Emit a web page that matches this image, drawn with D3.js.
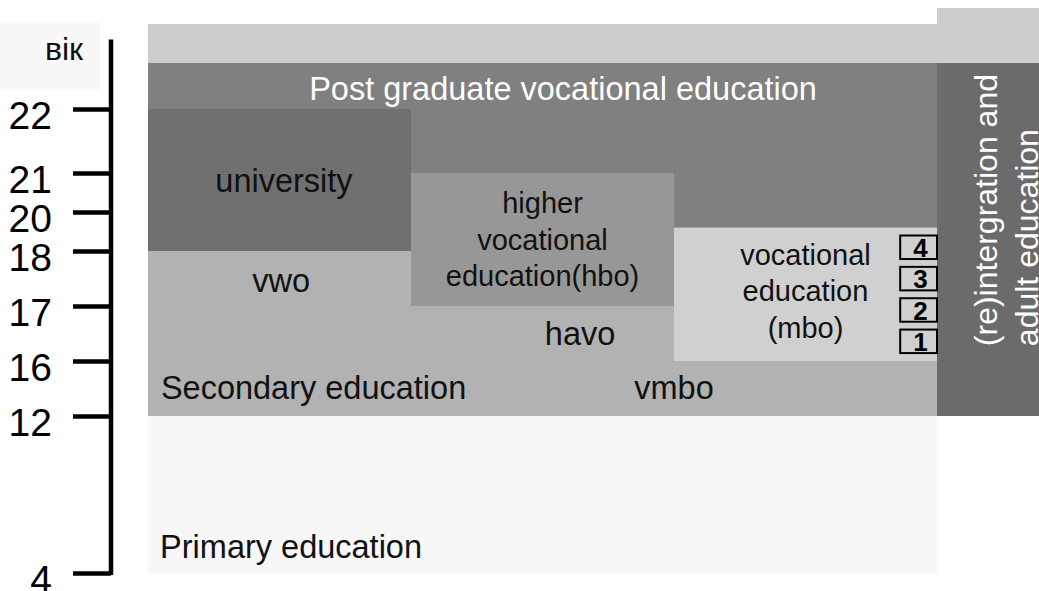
<!DOCTYPE html>
<html>
<head>
<meta charset="utf-8">
<script src="https://cdn.jsdelivr.net/npm/d3@7"></script>
<style>
  body { margin: 0; background: #fff; }
  svg { display: block; font-family: "Liberation Sans", Arial, sans-serif; }
</style>
</head>
<body>
<div id="chart"></div>
<script>
// Ages shown on the axis
var ages = [4, 12, 16, 17, 18, 20, 21, 22];
var ageLabels = ["4", "12", "16", "17", "18", "20", "21", "22"];
var axisTitle = "вік";

// Education blocks: columns (0..3 main grid, 3+ side column) and age span
var blockNames = ["top", "postgrad", "secondary", "university", "hbo", "mbo", "primary", "adultTop", "adult"];
var blockColFrom = [0, 0, 0, 0, 1, 2, 0, 3, 3];
var blockColTo = [3, 3, 3, 1, 2, 3, 3, 3.4, 3.4];
var blockAgeFrom = [23, 12, 12, 18, 17, 16, 4, 23, 12];
var blockAgeTo = [24, 23, 18, 22, 21, 19.2, 12, 24.4, 23];

// mbo levels
var mboLevels = ["4", "3", "2", "1"];

// Fills per block
var blockFill = {
	top: "#cdcdcd", postgrad: "#808080", secondary: "#b2b2b2", university: "#707070",
	hbo: "#979797", mbo: "#d0d0d0", primary: "#f7f7f7", adultTop: "#cdcdcd", adult: "#6b6b6b"
};

var width = 1039, height = 591;

var svg = d3.select("#chart").append("svg")
	.attr("width", width)
	.attr("height", height);

// Column scale and the (uneven) age scale of the diagram
var x = d3.scaleLinear()
	.domain([0, 3])
	.range([148, 937]);
var y = d3.scaleLinear()
	.domain([4, 12, 16, 17, 18, 20, 21, 22, 23, 24, 24.4])
	.range([573, 416, 361, 306, 251, 212, 173, 109, 63, 24, 8]);

// Light box behind the axis title
svg.append("rect")
	.attr("x", 0).attr("y", 22)
	.attr("width", 100).attr("height", 68)
	.attr("fill", "#f8f8f8");

// Blocks
svg.append("g").selectAll("rect")
	.data(blockNames)
	.enter().append("rect")
	.attr("x", function(d, i) { return x(blockColFrom[i]); })
	.attr("y", function(d, i) { return y(blockAgeTo[i]); })
	.attr("width", function(d, i) { return x(blockColTo[i]) - x(blockColFrom[i]); })
	.attr("height", function(d, i) { return y(blockAgeFrom[i]) - y(blockAgeTo[i]); })
	.attr("fill", function(d) { return blockFill[d]; });

// Axis
var axis = svg.append("g")
	.attr("transform", "translate(111,0)")
	.call(d3.axisLeft(y).tickValues(ages).tickSize(38).tickSizeOuter(0).tickPadding(21)
		.tickFormat(function(d, i) { return ageLabels[i]; }));
axis.select(".domain").remove();
axis.append("line")
	.attr("x1", 0).attr("x2", 0)
	.attr("y1", y(4) + 2).attr("y2", y(23.6))
	.attr("stroke", "#000").attr("stroke-width", 4.5);
axis.selectAll(".tick line").attr("stroke", "#000").attr("stroke-width", 4.5);
axis.selectAll(".tick text")
	.attr("font-family", "Liberation Sans, Arial, sans-serif")
	.attr("font-size", 39)
	.attr("fill", "#000")
	.attr("dy", "0.51em");

svg.append("text")
	.attr("x", 83).attr("y", 60)
	.attr("text-anchor", "end")
	.attr("font-size", 32)
	.attr("fill", "#111")
	.text(axisTitle);

// Labels: [lines, col, age, anchor, size, colour]
var labels = [
	[["Post graduate vocational education"], 1.578, 22.2, "middle", 32.5, "#fff"],
	[["university"], 0.517, 20.51, "middle", 32.5, "#111"],
	[["higher", "vocational", "education(hbo)"], 1.5, 19.95, "middle", 29, "#111"],
	[["vwo"], 0.506, 17.25, "middle", 32.5, "#111"],
	[["havo"], 1.643, 16.29, "middle", 32.5, "#111"],
	[["vocational", "education", "(mbo)"], 2.5, 17.75, "middle", 29, "#111"],
	[["Secondary education"], 0.049, 13.24, "start", 32.5, "#111"],
	[["vmbo"], 2.0, 13.24, "middle", 32.5, "#111"],
	[["Primary education"], 0.046, 4.76, "start", 32.5, "#111"]
];

labels.forEach(function(l) {
	var t = svg.append("text")
		.attr("x", x(l[1]))
		.attr("y", y(l[2]))
		.attr("text-anchor", l[3])
		.attr("font-size", l[4])
		.attr("fill", l[5]);
	l[0].forEach(function(line, i) {
		t.append("tspan")
			.attr("x", x(l[1]))
			.attr("dy", i == 0 ? 0 : "1.26em")
			.text(line);
	});
});

// Side column text, rotated
var side = svg.append("text")
	.attr("transform", "translate(" + x(3.228) + "," + y(16.27) + ") rotate(-90)")
	.attr("font-size", 32)
	.attr("fill", "#fff");
side.append("tspan").attr("x", 0).attr("dy", 0).text("(re)intergration and");
side.append("tspan").attr("x", 0).attr("dy", "1.28em").text("adult education");

// mbo level boxes
var band = d3.scaleBand()
	.domain(mboLevels)
	.range([y(19.2) + 4, y(16) - 4])
	.paddingInner(0.25)
	.paddingOuter(0.125);

var boxes = svg.append("g").selectAll("g")
	.data(mboLevels)
	.enter().append("g");
boxes.append("rect")
	.attr("x", x(2.86))
	.attr("y", function(d) { return band(d); })
	.attr("width", x(3) - x(2.86))
	.attr("height", band.bandwidth())
	.attr("fill", "none")
	.attr("stroke", "#000")
	.attr("stroke-width", 2);
boxes.append("text")
	.attr("x", (x(2.86) + x(3)) / 2 + 2)
	.attr("y", function(d) { return band(d) + band.bandwidth() - 2; })
	.attr("text-anchor", "middle")
	.attr("font-size", 26)
	.attr("font-weight", "bold")
	.attr("fill", "#000")
	.text(function(d) { return d; });
</script>
</body>
</html>
